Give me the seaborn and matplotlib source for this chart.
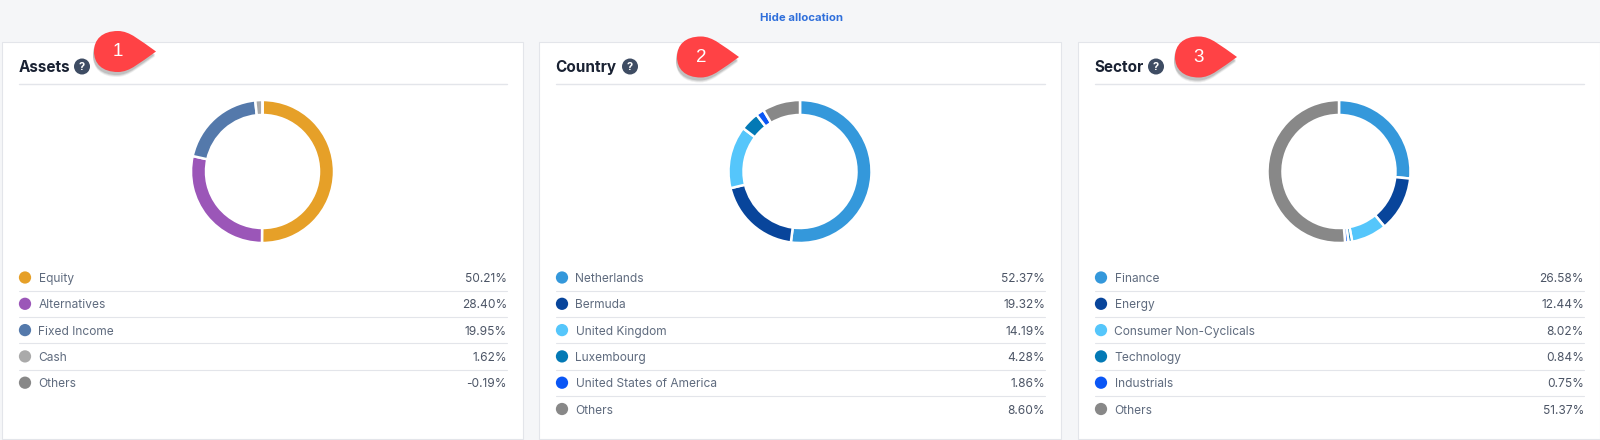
#imports
import numpy as np
import pandas as pd
import matplotlib
matplotlib.use("Agg")
import matplotlib.pyplot as plt
from matplotlib.patches import Circle, PathPatch, Rectangle
from matplotlib.path import Path
import seaborn as sns

#Chart data
asset_names = ["Equity", "Alternatives", "Fixed Income", "Cash", "Others"]
asset_values = [50.21, 28.40, 19.95, 1.62, -0.19]
asset_colors = ["#e6a028", "#9b56b8", "#5479ab", "#aaaaaa", "#888888"]

country_names = ["Netherlands", "Bermuda", "United Kingdom", "Luxembourg", "United States of America", "Others"]
country_values = [52.37, 19.32, 14.19, 4.28, 1.86, 8.60]
country_colors = ["#3498db", "#08459b", "#55c6fb", "#0379b5", "#0a56f5", "#888888"]

sector_names = ["Finance", "Energy", "Consumer Non-Cyclicals", "Technology", "Industrials", "Others"]
sector_values = [26.58, 12.44, 8.02, 0.84, 0.75, 51.37]
sector_colors = country_colors

titles = ["Assets", "Country", "Sector"]
badges = ["1", "2", "3"]

W, H = 1600, 440
BG = "#f5f6f8"
LINE = "#e3e5ea"

sns.set_theme(style="white")
plt.rcParams["font.family"] = ["Inter", "DejaVu Sans"]

fig = plt.figure(figsize=(16, 4.4), dpi=100, facecolor=BG)

# page layer in pixel coordinates
ax = fig.add_axes([0, 0, 1, 1], zorder=1)
ax.set_xlim(0, W)
ax.set_ylim(H, 0)
ax.axis("off")

ax.text(801.5, 18, "Hide allocation", color="#2f6fdb", fontsize=8.2, fontweight="bold",
        ha="center", va="center")


def draw_badge(x, y, label):
    # red teardrop callout, x is the left edge and y the middle
    verts = [(x + 24, y - 20.5), (x + 36, y - 20.5), (x + 46, y - 11), (x + 62, y),
             (x + 46, y + 11), (x + 36, y + 20.5), (x + 24, y + 20.5),
             (x + 8, y + 20.5), (x, y + 12), (x, y),
             (x, y - 12), (x + 8, y - 20.5), (x + 24, y - 20.5)]
    codes = [Path.MOVETO] + [Path.CURVE4] * 12
    for off, alpha in [(5, 0.07), (4, 0.10), (3, 0.14)]:
        shadow = [(a - 1, b + off) for a, b in verts]
        ax.add_patch(PathPatch(Path(shadow, codes), fc="#222222", ec="none", alpha=alpha, zorder=6))
    ax.add_patch(PathPatch(Path(verts, codes), fc="#ff4245", ec="none", zorder=7))
    ax.text(x + 24, y + 0.5, label, color="white", fontsize=13.5, ha="center", va="center", zorder=8,
            family=["Liberation Sans", "DejaVu Sans"])


def draw_panel(left, right, center, badge_x, badge_y, title, help_x, names, values, colors, badge):
    ax.add_patch(Rectangle((left, 42), right - left, 397, fc="white", ec=LINE, lw=0.8, zorder=2))

    x0 = left + 16.5
    x1 = right - 16
    ax.text(x0, 72, title, color="#1a2233", fontsize=11, fontweight="bold", va="baseline", zorder=3)
    ax.add_patch(Circle((help_x, 66.5), 8, fc="#3e4c63", ec="none", zorder=3))
    ax.text(help_x, 66.7, "?", color="white", fontsize=8, fontweight="bold", ha="center", va="center", zorder=4)
    ax.plot([x0, x1], [84, 84], color=LINE, lw=1, zorder=3)

    # legend rows
    rows = pd.DataFrame({"name": names, "value": values})
    rows["y"] = 277.5 + rows.index * 26.3
    rows["x"] = x0 + 6.5
    sns.scatterplot(data=rows, x="x", y="y", hue="name", palette=colors, s=78, linewidth=0,
                    legend=False, ax=ax, zorder=3)
    for i, row in rows.iterrows():
        ax.text(x0 + 20, row["y"] + 4.6, row["name"], color="#5f6b7e", fontsize=8.6, va="baseline", zorder=3)
        ax.text(x1, row["y"] + 4.6, f"{row['value']:.2f}%", color="#4c5566", fontsize=8.6, ha="right", va="baseline", zorder=3)
        if i < len(rows) - 1:
            ax.plot([x0, x1], [row["y"] + 13.2] * 2, color=LINE, lw=0.8, zorder=3)

    # donut
    radius = 71.5
    pie_ax = fig.add_axes([(center - radius) / W, 1 - (171.5 + radius) / H, 2 * radius / W, 2 * radius / H], zorder=3)
    pie_ax.pie(np.clip(values, 0, None), colors=colors, startangle=90, counterclock=False, radius=1,
               wedgeprops={"width": 15 / radius, "edgecolor": "white", "linewidth": 1.8})
    pie_ax.set_xlim(-1, 1)
    pie_ax.set_ylim(-1, 1)

    draw_badge(badge_x, badge_y, badge)


draw_panel(2, 523, 262.5, 94, 51.5, titles[0], 82, asset_names, asset_values, asset_colors, badges[0])
draw_panel(539, 1061, 800, 677, 57, titles[1], 630, country_names, country_values, country_colors, badges[1])
draw_panel(1078, 1600, 1339, 1175, 57, titles[2], 1156, sector_names, sector_values, sector_colors, badges[2])

ax.set_xlim(0, W)
ax.set_ylim(H, 0)
ax.set_xlabel("")
ax.set_ylabel("")

fig.savefig("out.png", dpi=100, facecolor=BG)
